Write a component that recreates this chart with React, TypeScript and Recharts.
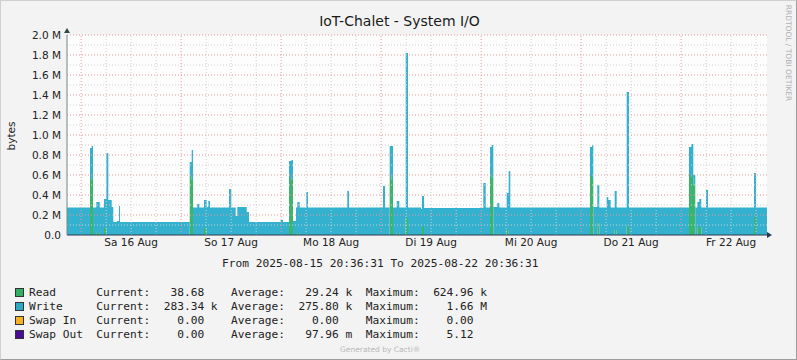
import { Area, AreaChart, CartesianGrid, ReferenceLine, XAxis, YAxis } from "recharts";

// hours since 2025-08-15 00:00, step points
const hours = [
  20.61, 26.13, 26.54, 26.85, 27.64, 28.46, 29.49, 30.04, 30.52, 31.34, 31.72, 32.61, 33.09, 33.33,
  50.06, 50.54, 50.85, 51.88, 52.36, 53.49, 54.14, 54.52, 54.93, 59.49, 60.04, 61.1, 61.48, 63.74,
  64.29, 71.9, 72.45, 73.89, 74.49, 74.85, 75.57, 75.88, 76.46, 78.04, 78.45, 87.88, 88.29, 96.45,
  96.93, 98.06, 98.49, 98.85, 99.74, 100.36, 101.9, 102.45, 105.57, 105.81, 106.29, 120.52, 121.1,
  122.13, 122.54, 122.92, 123.88, 124.36, 126.14, 126.62, 127.0, 146.13, 146.61, 146.92, 147.88,
  148.36, 150.14, 150.52, 151.1, 152.06, 152.54, 154.94, 155.49, 169.89, 170.44, 170.92, 171.4,
  171.88, 172.36, 172.84, 173.97, 174.45, 185.49, 185.97, 188.61,
];

// MB/s
const writeM = [
  0.275, 0.29, 0.34, 0.275, 0.31, 0.275, 0.29, 0.82, 0.35, 0.28, 0.13, 0.14, 0.29, 0.13,
  0.14, 0.3, 0.275, 0.31, 0.275, 0.28, 0.28, 0.34, 0.275, 0.46, 0.275, 0.19, 0.28, 0.23,
  0.13, 0.15, 0.13, 0.16, 0.2, 0.14, 0.275, 0.31, 0.275, 0.43, 0.275, 0.44, 0.275, 0.49,
  0.275, 0.3, 0.34, 0.275, 0.32, 0.275, 1.65, 0.275, 0.26, 0.3, 0.27, 0.52, 0.275,
  0.28, 0.33, 0.28, 0.3, 0.275, 0.37, 0.64, 0.275, 0.29, 0.34, 0.28, 0.38,
  0.275, 0.38, 0.35, 0.275, 0.39, 0.275, 1.34, 0.275, 0.28, 0.33, 0.1, 0.275,
  0.25, 0.28, 0.275, 0.45, 0.275, 0.44, 0.275, 0.283,
];

const readM = [
  0, 0.58, 0.55, 0, 0.02, 0, 0.07, 0, 0, 0, 0, 0, 0, 0,
  0.59, 0.55, 0, 0, 0, 0.07, 0, 0, 0, 0, 0, 0, 0, 0,
  0, 0, 0, 0.58, 0.55, 0, 0, 0.02, 0, 0, 0, 0, 0, 0,
  0, 0.59, 0.55, 0, 0.02, 0, 0.17, 0, 0, 0.09, 0, 0, 0,
  0.6, 0.57, 0, 0.02, 0, 0.05, 0, 0, 0.59, 0.56, 0, 0.12,
  0, 0, 0, 0, 0.05, 0, 0.09, 0, 0.6, 0.58, 0.5, 0,
  0.08, 0.08, 0, 0, 0, 0.18, 0, 0,
];

const dayTicks = [36, 60, 84, 108, 132, 156, 180];
const dayLabels = ["Sa 16 Aug", "So 17 Aug", "Mo 18 Aug", "Di 19 Aug", "Mi 20 Aug", "Do 21 Aug", "Fr 22 Aug"];
const yTicks = [0, 0.2, 0.4, 0.6, 0.8, 1.0, 1.2, 1.4, 1.6, 1.8, 2.0];

const legendRows = [
  { color: "#2fae66", text: "Read      Current:   38.68    Average:   29.24 k  Maximum:  624.96 k" },
  { color: "#2fa8c8", text: "Write     Current:  283.34 k  Average:  275.80 k  Maximum:    1.66 M" },
  { color: "#f7b023", text: "Swap In   Current:    0.00    Average:    0.00    Maximum:    0.00" },
  { color: "#4a0b9a", text: "Swap Out  Current:    0.00    Average:   97.96 m  Maximum:    5.12" },
];

const rows = hours.map((h, i) => ({ h, read: readM[i], write: writeM[i] }));

const X_DOMAIN: [number, number] = [20.6086, 188.6086];
const sixHours: number[] = [];
for (let h = 24; h < X_DOMAIN[1]; h += 6) sixHours.push(h);
const midnights = sixHours.filter((h) => h % 24 === 0);
const minorHours = sixHours.filter((h) => h % 24 !== 0);
const minorY = yTicks.slice(1).map((v) => +(v - 0.1).toFixed(1));

const MINOR = "#cfcfcf";
const MAJOR = "#e59a9a";

const sans = "'DejaVu Sans', sans-serif";
const mono = "'DejaVu Sans Mono', monospace";

const fmtY = (v: number) => (v === 0 ? "0.0" : `${v.toFixed(1)} M`);

export default function App() {
  return (
    <div
      style={{
        position: "relative",
        width: 797,
        height: 360,
        background: "#f3f3f3",
        boxSizing: "border-box",
        borderStyle: "solid",
        borderWidth: 1,
        borderColor: "#d0d0d0 #9c9c9c #9c9c9c #d0d0d0",
        fontFamily: sans,
        overflow: "hidden",
      }}
    >
      <style>{"body{margin:0}"}</style>
      <div
        style={{ position: "absolute", top: 12, left: 0, width: 797, textAlign: "center", fontSize: 14, color: "#1a1a1a" }}
      >
        IoT-Chalet - System I/O
      </div>
      <div
        style={{
          position: "absolute",
          left: 10,
          top: 135,
          transform: "translate(-50%, -50%) rotate(-90deg)",
          fontSize: 10.5,
          color: "#222",
        }}
      >
        bytes
      </div>
      <div
        style={{
          position: "absolute",
          left: 787,
          top: 52,
          transform: "translate(-50%, -50%) rotate(90deg)",
          fontSize: 7.5,
          color: "#b0b0b0",
          whiteSpace: "nowrap",
        }}
      >
        RRDTOOL / TOBI OETIKER
      </div>

      <div style={{ position: "absolute", left: -1, top: -1 }}>
        <AreaChart width={797} height={360} data={rows} margin={{ top: 35, right: 30, left: 0, bottom: 0 }}>
          <CartesianGrid fill="#fdfdfd" horizontal={false} vertical={false} />
          <XAxis
            type="number"
            dataKey="h"
            domain={X_DOMAIN}
            allowDataOverflow
            ticks={dayTicks}
            interval={0}
            tickFormatter={(v: number) => dayLabels[dayTicks.indexOf(v)]}
            height={125}
            tickLine={false}
            tickSize={0}
            tickMargin={4}
            axisLine={{ stroke: "#2c3850" }}
            tick={{ fontSize: 10.5, fill: "#222", fontFamily: sans }}
          />
          <YAxis
            type="number"
            domain={[0, 2]}
            ticks={yTicks}
            interval={0}
            tickFormatter={fmtY}
            width={67}
            tickLine={false}
            tickSize={0}
            tickMargin={6}
            axisLine={{ stroke: "#718a86" }}
            tick={{ fontSize: 10.5, fill: "#222", fontFamily: sans }}
          />
          {minorY.map((v) => (
            <ReferenceLine key={`my${v}`} y={v} stroke={MINOR} strokeDasharray="1 2" />
          ))}
          {minorHours.map((v) => (
            <ReferenceLine key={`mx${v}`} x={v} stroke={MINOR} strokeDasharray="1 2" />
          ))}
          {yTicks.slice(1).map((v) => (
            <ReferenceLine key={`My${v}`} y={v} stroke={MAJOR} strokeDasharray="1 2" />
          ))}
          {midnights.map((v) => (
            <ReferenceLine key={`Mx${v}`} x={v} stroke={MAJOR} strokeDasharray="1 2" />
          ))}
          <Area
            type="stepAfter"
            dataKey="read"
            stackId="io"
            stroke="none"
            fill="#3bb56e"
            fillOpacity={1}
            isAnimationActive={false}
            dot={false}
            activeDot={false}
          />
          <Area
            type="stepAfter"
            dataKey="write"
            stackId="io"
            stroke="none"
            fill="#34b1ce"
            fillOpacity={1}
            isAnimationActive={false}
            dot={false}
            activeDot={false}
          />
        </AreaChart>
      </div>

      <svg style={{ position: "absolute", left: -1, top: -1 }} width={797} height={360}>
        <polygon points="64,33 70,33 67,28" fill="#2f4a48" />
        <polygon points="767,232 767,238 772,235" fill="#2c3850" />
      </svg>

      <div
        style={{
          position: "absolute",
          left: 221,
          top: 256,
          fontFamily: mono,
          fontSize: 11.2,
          color: "#222",
          whiteSpace: "pre",
        }}
      >
        From 2025-08-15 20:36:31 To 2025-08-22 20:36:31
      </div>

      {legendRows.map((r, i) => (
        <div key={i} style={{ position: "absolute", left: 14, top: 284 + i * 14, height: 14, display: "flex", alignItems: "center" }}>
          <span
            style={{
              display: "inline-block",
              width: 7,
              height: 7,
              background: r.color,
              border: "1px solid #333",
              marginRight: 5,
            }}
          />
          <span style={{ fontFamily: mono, fontSize: 11.2, color: "#222", whiteSpace: "pre" }}>{r.text}</span>
        </div>
      ))}

      <div
        style={{ position: "absolute", top: 344, left: 339, fontSize: 7.5, color: "#b8b8b8", whiteSpace: "nowrap" }}
      >
        Generated by Cacti®
      </div>
    </div>
  );
}
